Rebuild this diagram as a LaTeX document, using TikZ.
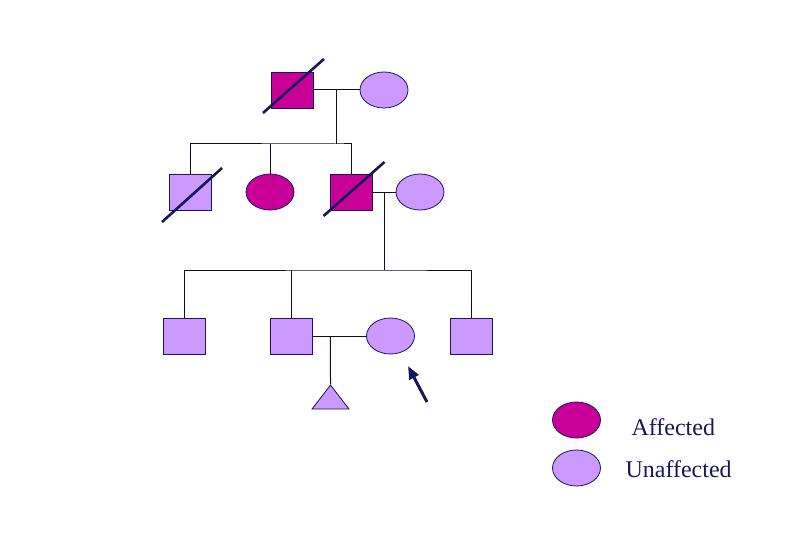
\documentclass[tikz,border=0pt]{standalone}
\usepackage{fontspec}
\setmainfont{Liberation Serif}
\usepackage{xcolor}
\usetikzlibrary{positioning, shapes.geometric, arrows.meta}

\definecolor{affcol}{RGB}{200,0,152}
\definecolor{unaffcol}{RGB}{204,153,255}
\definecolor{navy}{RGB}{22,22,92}

\begin{document}
\begin{tikzpicture}[x=1pt,y=1pt,node distance=80pt,on grid,
   male/.style={rectangle,draw=navy,line width=0.8pt,minimum width=42pt,minimum height=36pt,inner sep=0pt},
   female/.style={ellipse,draw=navy,line width=0.8pt,minimum width=48pt,minimum height=36pt,inner sep=0pt},
   unborn/.style={isosceles triangle,shape border rotate=90,isosceles triangle stretches,draw=navy,line width=0.8pt,
                  fill=unaffcol,minimum width=37pt,minimum height=24pt,inner sep=0pt},
   link/.style={draw=navy!55!black,line width=1pt},
   dead/.style={draw=navy,line width=2.6pt},
   pointer/.style={draw=navy,line width=3pt,-{Triangle[width=10pt,length=13pt]}},
   key/.style={anchor=base west,text=navy,font=\fontsize{24}{28}\selectfont},
] 
   \useasboundingbox (0,0) rectangle (810,-540);

   % generation I
   \node[male,fill=affcol] (gf) at (292,-90) {};
   \node[female,fill=unaffcol] (gm) [right=92pt of gf] {};

   % generation II
   \node[male,fill=unaffcol] (s1) at (190,-192) {};
   \node[female,fill=affcol] (d1) [right=of s1] {};
   \node[male,fill=affcol] (s3) [right=81.5pt of d1] {};
   \node[female,fill=unaffcol] (w3) [right=68.5pt of s3] {};

   % generation III
   \node[male,fill=unaffcol] (c1) at (184,-336) {};
   \node[male,fill=unaffcol] (c2) [right=107.5pt of c1] {};
   \node[female,fill=unaffcol] (pb) [right=99pt of c2] {};
   \node[male,fill=unaffcol] (c4) [right=81pt of pb] {};
   \node[unborn,anchor=apex] (tr) at (330.5,-384) {};

   % key
   \node[female,fill=affcol] (ka) at (576.5,-420) {};
   \node[female,fill=unaffcol] (ku) [below=48pt of ka] {};
   \node[key] (ta) at (628,-435) {Affected};
   \node[key] (tu) at (622,-477) {Unaffected};

   % lines of descent
   \draw[link] (gf) -- (gm) coordinate[midway] (m1);
   \draw[link] (m1) -- ++(0,-54) coordinate (j1);
   \draw[link] (s1.north) |- (j1) -| (s3.north);
   \draw[link] (d1.north) -- (d1.north |- j1);

   \draw[link] (s3) -- (w3) coordinate[midway] (m2);
   \draw[link] (m2) -- ++(0,-78) coordinate (j2);
   \draw[link] (c1.north) |- (j2) -| (c4.north);
   \draw[link] (c2.north) -- (c2.north |- j2);

   \draw[link] (c2) -- (pb) coordinate[pos=0.33] (m3);
   \draw[link] (m3) -- (tr.apex);

   % deceased
   \draw[dead] ([shift={(-29,-23)}]gf.center) -- ([shift={(32,31)}]gf.center);
   \draw[dead] ([shift={(-28,-30)}]s1.center) -- ([shift={(32,24)}]s1.center);
   \draw[dead] ([shift={(-28,-24)}]s3.center) -- ([shift={(33,30)}]s3.center);

   % proband
   \coordinate (ptail) at (427,-402);
   \coordinate (ptip) at (408,-366);
   \draw[pointer] (ptail) -- (ptip);
\end{tikzpicture}
\end{document}
